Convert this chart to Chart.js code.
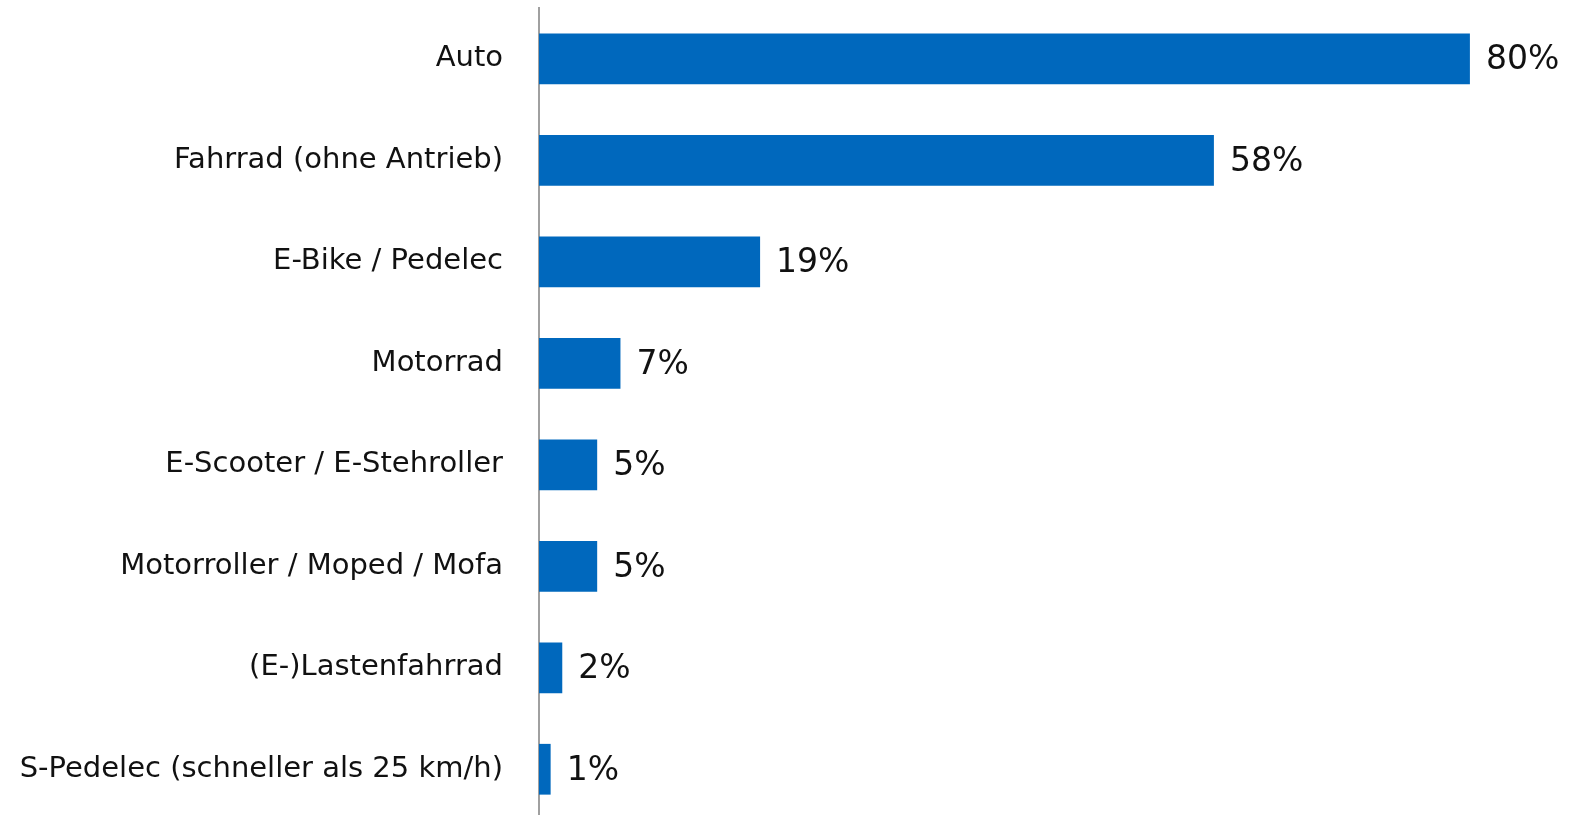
<!DOCTYPE html>
<html>
<head>
<meta charset="utf-8">
<script src="https://cdn.jsdelivr.net/npm/chart.js@4"></script>
<style>
  html, body { margin: 0; padding: 0; background: #fff; overflow: hidden; }
  canvas { display: block; }
</style>
</head>
<body>
<canvas id="modeChart" width="1581" height="820"></canvas>
<script>
// ==============================
// Data
// ==============================
const categories = [
    'Auto',
    'Fahrrad (ohne Antrieb)',
    'E-Bike / Pedelec',
    'Motorrad',
    'E-Scooter / E-Stehroller',
    'Motorroller / Moped / Mofa',
    '(E-)Lastenfahrrad',
    'S-Pedelec (schneller als 25 km/h)'
];
const shares = [80, 58, 19, 7, 5, 5, 2, 1];

// ==============================
// Value labels next to the bars
// ==============================
const valueLabels = {
    id: 'valueLabels',
    afterDatasetsDraw(chart) {
        const ctx = chart.ctx;
        const meta = chart.getDatasetMeta(0);
        ctx.save();
        ctx.font = '33px "DejaVu Sans"';
        ctx.fillStyle = '#111';
        ctx.textAlign = 'left';
        ctx.textBaseline = 'middle';
        meta.data.forEach((bar, i) => {
            ctx.fillText(shares[i] + '%', bar.x + 16, bar.y + 2);
        });
        ctx.restore();
    }
};

const ctx = document.getElementById('modeChart').getContext('2d');
new Chart(ctx, {
    type: 'bar',
    data: {
        labels: categories,
        datasets: [{
            data: shares,
            backgroundColor: '#0068bd',
            categoryPercentage: 1,
            barPercentage: 0.5
        }]
    },
    options: {
        indexAxis: 'y',
        responsive: false,
        animation: false,
        layout: { padding: { top: 8, right: 18, bottom: 0, left: 0 } },
        plugins: {
            legend: { display: false },
            tooltip: { enabled: false }
        },
        scales: {
            x: {
                min: 0,
                max: 88,
                display: false
            },
            y: {
                afterFit(scale) {
                    scale.width = 539;
                    scale.paddingTop = 0;
                    scale.paddingBottom = 0;
                },
                grid: { display: false, drawTicks: false },
                border: { display: true, color: '#a0a0a0', width: 2 },
                ticks: {
                    padding: 36,
                    color: '#111',
                    font: { family: '"DejaVu Sans"', size: 29 }
                }
            }
        }
    },
    plugins: [valueLabels]
});
</script>
</body>
</html>
